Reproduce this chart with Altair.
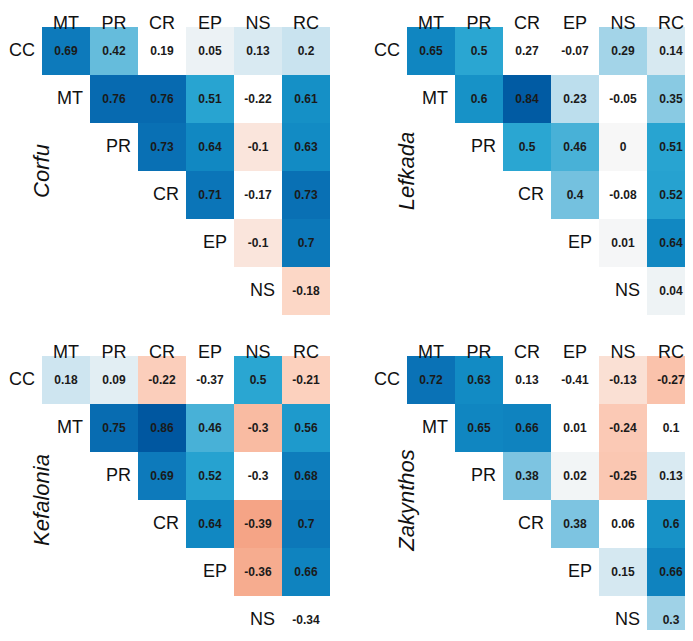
import altair as alt
import pandas as pd

islands = ["Corfu", "Lefkada", "Kefalonia", "Zakynthos"]
cols = ["MT", "PR", "CR", "EP", "NS", "RC"]
rows = ["CC", "MT", "PR", "CR", "EP", "NS"]

corfu = [
    [0.69, 0.42, 0.19, 0.05, 0.13, 0.2],
    [0.76, 0.76, 0.51, -0.22, 0.61],
    [0.73, 0.64, -0.1, 0.63],
    [0.71, -0.17, 0.73],
    [-0.1, 0.7],
    [-0.18],
]
lefkada = [
    [0.65, 0.5, 0.27, -0.07, 0.29, 0.14],
    [0.6, 0.84, 0.23, -0.05, 0.35],
    [0.5, 0.46, 0, 0.51],
    [0.4, -0.08, 0.52],
    [0.01, 0.64],
    [0.04],
]
kefalonia = [
    [0.18, 0.09, -0.22, -0.37, 0.5, -0.21],
    [0.75, 0.86, 0.46, -0.3, 0.56],
    [0.69, 0.52, -0.3, 0.68],
    [0.64, -0.39, 0.7],
    [-0.36, 0.66],
    [-0.34],
]
zakynthos = [
    [0.72, 0.63, 0.13, -0.41, -0.13, -0.27],
    [0.65, 0.66, 0.01, -0.24, 0.1],
    [0.38, 0.02, -0.25, 0.13],
    [0.38, 0.06, 0.6],
    [0.15, 0.66],
    [0.3],
]
# cells drawn without colour (white) in the original
blank_corfu = [("CC", "CR"), ("MT", "NS"), ("CR", "NS")]
blank_lefkada = [("CC", "CR"), ("CC", "EP"), ("MT", "NS"), ("CR", "NS")]
blank_kefalonia = [("CC", "EP"), ("PR", "NS"), ("NS", "RC")]
blank_zakynthos = [("CC", "CR"), ("CC", "EP"), ("MT", "EP"), ("MT", "RC"), ("CR", "NS")]

values = {"Corfu": corfu, "Lefkada": lefkada, "Kefalonia": kefalonia, "Zakynthos": zakynthos}
blanks = {"Corfu": blank_corfu, "Lefkada": blank_lefkada,
          "Kefalonia": blank_kefalonia, "Zakynthos": blank_zakynthos}

color_domain = [-0.4, -0.2, 0, 0.2, 0.4, 0.5, 0.62, 0.72, 0.86]
color_range = ["#f5a283", "#fcd3c1", "#f7f7f7", "#c9e3ef", "#74c1df",
               "#2aa6d2", "#138ec5", "#0a72b6", "#0057a0"]

CELL = 48
LABEL_FONT = "Liberation Sans, Arial, sans-serif"
VALUE_FONT = "Liberation Sans, Arial, sans-serif"


def panel(name, w, h):
    recs = []
    for i, rlist in enumerate(values[name]):
        for k, v in enumerate(rlist):
            j = i + k
            recs.append({
                "c": j, "c2": j + 1, "cm": j + 0.5,
                "r": i, "r2": i + 1, "rm": i + 0.5,
                "v": v, "label": f"{v:g}",
                "sig": (rows[i], cols[j]) not in blanks[name],
            })
    cells = pd.DataFrame(recs)
    rowlab = pd.DataFrame({"x": list(range(6)), "y": [i + 0.5 for i in range(6)], "t": rows})
    collab = pd.DataFrame({"x": [j + 0.5 for j in range(6)], "y": [0] * 6, "t": cols})
    title = pd.DataFrame({"x": [0], "y": [3], "t": [name]})

    xs = alt.Scale(domain=[0, w / CELL], nice=False, zero=False)
    ys = alt.Scale(domain=[0, h / CELL], nice=False, zero=False, reverse=True)

    rect = alt.Chart(cells).transform_filter("datum.sig").mark_rect(clip=True).encode(
        x=alt.X("c:Q", scale=xs, axis=None), x2="c2:Q",
        y=alt.Y("r:Q", scale=ys, axis=None), y2="r2:Q",
        color=alt.Color("v:Q", scale=alt.Scale(domain=color_domain, range=color_range,
                                               interpolate="rgb"), legend=None),
    )
    txt = alt.Chart(cells).mark_text(font=VALUE_FONT, fontSize=12, fontWeight="bold",
                                     color="#1a1a1a", clip=True).encode(
        x=alt.X("cm:Q", scale=xs, axis=None),
        y=alt.Y("rm:Q", scale=ys, axis=None),
        text="label:N",
    )
    rl = alt.Chart(rowlab).mark_text(font=LABEL_FONT, fontSize=18, align="right",
                                     baseline="middle", dx=-7, color="#111").encode(
        x=alt.X("x:Q", scale=xs, axis=None),
        y=alt.Y("y:Q", scale=ys, axis=None),
        text="t:N",
    )
    cl = alt.Chart(collab).mark_text(font=LABEL_FONT, fontSize=18, align="center",
                                     baseline="alphabetic", dy=2, color="#111").encode(
        x=alt.X("x:Q", scale=xs, axis=None),
        y=alt.Y("y:Q", scale=ys, axis=None),
        text="t:N",
    )
    tt = alt.Chart(title).mark_text(font=LABEL_FONT, fontSize=22, fontStyle="italic",
                                    angle=270, align="center", baseline="alphabetic",
                                    dy=7, color="#111").encode(
        x=alt.X("x:Q", scale=xs, axis=None),
        y=alt.Y("y:Q", scale=ys, axis=None),
        text="t:N",
    )
    return alt.layer(rect, txt, rl, cl, tt).properties(width=w, height=h)


chart = alt.concat(
    panel("Corfu", 288, 288),
    panel("Lefkada", 278, 288),
    panel("Kefalonia", 288, 274),
    panel("Zakynthos", 278, 274),
    columns=2,
    spacing={"row": 41, "column": 77},
    bounds="flush",
).properties(
    padding={"left": 1, "top": 7, "right": 0, "bottom": 0},
    background="white",
).configure_view(stroke=None)

chart.save("out.html", embed_options={"renderer": "svg", "actions": False})
